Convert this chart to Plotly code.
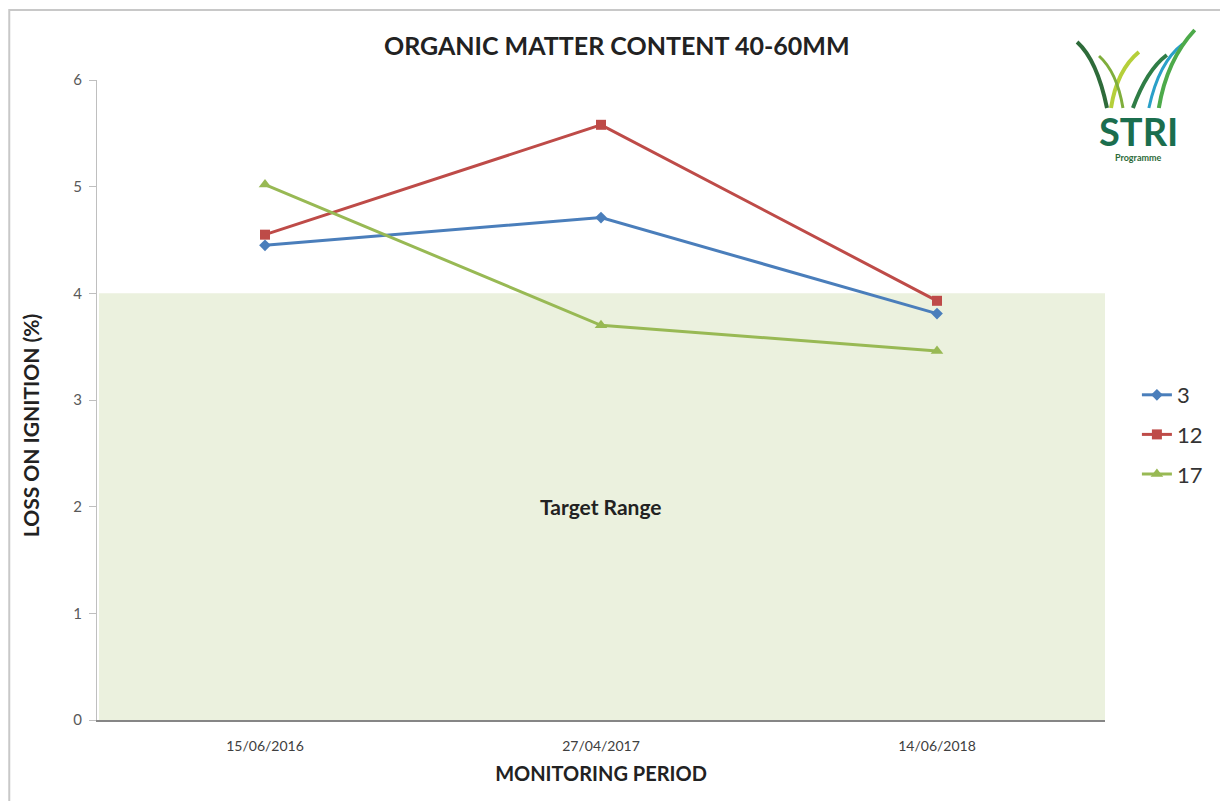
import plotly.graph_objects as go

periods = ["15/06/2016", "27/04/2017", "14/06/2018"]
series_names = ["3", "12", "17"]
s3 = [4.45, 4.71, 3.81]
s12 = [4.55, 5.58, 3.93]
s17 = [5.02, 3.70, 3.46]
target_low, target_high = 0, 4
y_ticks = [0, 1, 2, 3, 4, 5, 6]

FONT = "Lato, 'Open Sans', sans-serif"
colors = ["#4a7ebb", "#be4b48", "#98b954"]
symbols = ["diamond", "square", "triangle-up"]
sizes = [9, 10, 11]

fig = go.Figure()
for name, vals, c, s, sz in zip(series_names, [s3, s12, s17], colors, symbols, sizes):
    fig.add_trace(go.Scatter(
        x=periods, y=vals, name=name, mode="lines+markers", legendgroup=name,
        line=dict(color=c, width=3),
        marker=dict(symbol=s, size=sz, color=c),
    ))

# target range shading
fig.add_shape(type="rect", xref="paper", yref="y", x0=0.002, x1=1.0,
              y0=target_low, y1=target_high, fillcolor="#ebf1de",
              line=dict(width=0), layer="below")

def px(x):
    return (x - 97) / 1011

def py(y):
    return (720 - y) / 640

# outer frame
fig.add_shape(type="rect", xref="paper", yref="paper",
              x0=px(9), x1=px(1228), y0=py(10), y1=py(805),
              line=dict(color="#c8c8c8", width=2), fillcolor="rgba(0,0,0,0)")

# logo grass blades
blades = [
    ((1110, 108), (1100, 60), (1080, 42), "#2e6b3a", 4),
    ((1114, 108), (1120, 70), (1142, 52), "#b5cf3a", 4),
    ((1126, 108), (1120, 72), (1102, 56), "#7fae3c", 3),
    ((1136, 108), (1150, 70), (1170, 55), "#2f7d46", 4),
    ((1152, 108), (1162, 62), (1186, 44), "#2aa0c8", 3),
    ((1162, 108), (1170, 60), (1198, 30), "#4daa4a", 4),
]
for (x0, y0), (cx, cy), (x1, y1), col, w in blades:
    path = f"M {px(x0)},{py(y0)} Q {px(cx)},{py(cy)} {px(x1)},{py(y1)}"
    fig.add_shape(type="path", xref="paper", yref="paper", path=path,
                  line=dict(color=col, width=w))

fig.add_annotation(x=px(1142), y=py(131), xref="paper", yref="paper",
                   xanchor="center", yanchor="middle",
                   text="<b>STRI</b>", showarrow=False,
                   font=dict(family=FONT, size=38, color="#1b6e4e"))
fig.add_annotation(x=px(1142), y=py(157), xref="paper", yref="paper",
                   xanchor="center", yanchor="middle",
                   text="<b>Programme</b>", showarrow=False,
                   font=dict(family=FONT, size=9, color="#2e6b3a"))

# title
fig.add_annotation(x=px(619), y=py(45), xref="paper", yref="paper",
                   xanchor="center", yanchor="middle",
                   text="<b>ORGANIC MATTER CONTENT 40-60MM</b>", showarrow=False,
                   font=dict(family=FONT, size=25, color="#222222"))

# y-axis title
fig.add_annotation(x=px(30), y=py(426), xref="paper", yref="paper",
                   xanchor="center", yanchor="middle", textangle=-90,
                   text="<b>LOSS ON IGNITION (%)</b>", showarrow=False,
                   font=dict(family=FONT, size=21, color="#222222"))

fig.add_annotation(x=periods[1], y=2, xref="x", yref="y",
                   xanchor="center", yanchor="middle",
                   text="<b>Target Range</b>", showarrow=False,
                   font=dict(family=FONT, size=21, color="#222222"))

fig.update_layout(
    width=1220, height=801,
    margin=dict(l=97, r=112, t=80, b=81),
    paper_bgcolor="white", plot_bgcolor="white",
    font=dict(family=FONT, color="#595959"),
    showlegend=True,
    legend=dict(x=px(1140), y=py(374), xanchor="left", yanchor="top",
                font=dict(family=FONT, size=22, color="#333333"),
                tracegroupgap=8, itemwidth=30, bgcolor="rgba(0,0,0,0)"),
    xaxis=dict(type="category", range=[-0.5, 2.5], showgrid=False,
               showline=True, linecolor="#868686", linewidth=2,
               ticks="", ticklabelstandoff=12,
               tickfont=dict(size=14, color="#404040"),
               title=dict(text="<b>MONITORING PERIOD</b>", standoff=14,
                          font=dict(family=FONT, size=20, color="#222222"))),
    yaxis=dict(range=[0, 6], tickvals=y_ticks, showgrid=False, zeroline=False,
               showline=True, linecolor="#bfbfbf", linewidth=1,
               ticks="outside", ticklen=7, tickcolor="#bfbfbf",
               ticklabelstandoff=4,
               tickfont=dict(size=15, color="#595959")),
)

fig.write_html("out.html")
